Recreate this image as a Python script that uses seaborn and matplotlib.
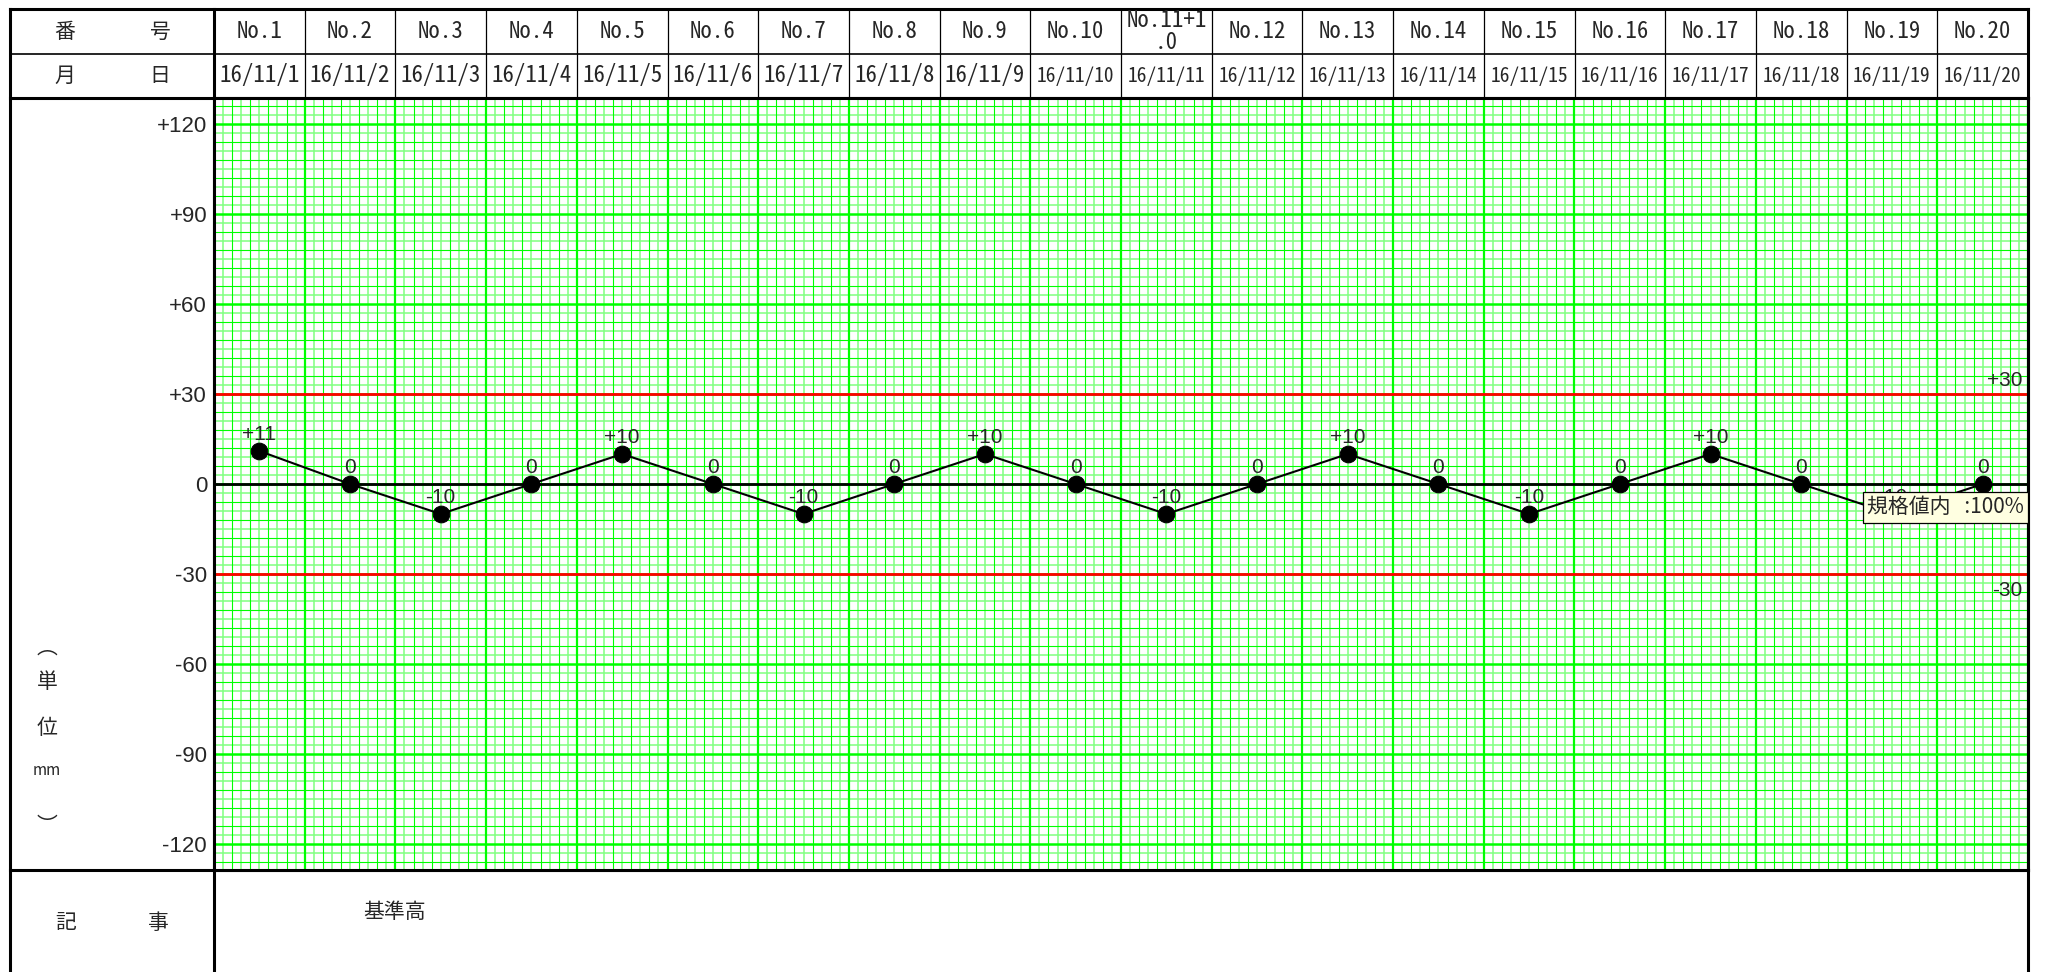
import matplotlib
matplotlib.use('Agg')
import matplotlib.pyplot as plt
import matplotlib.font_manager as fm
from matplotlib.transforms import blended_transform_factory
import numpy as np
import seaborn as sns

# chart data
numbers = ['No.1', 'No.2', 'No.3', 'No.4', 'No.5', 'No.6', 'No.7', 'No.8', 'No.9', 'No.10',
           'No.11+1\n.0', 'No.12', 'No.13', 'No.14', 'No.15', 'No.16', 'No.17', 'No.18', 'No.19', 'No.20']
dates = ['16/11/1', '16/11/2', '16/11/3', '16/11/4', '16/11/5', '16/11/6', '16/11/7', '16/11/8',
         '16/11/9', '16/11/10', '16/11/11', '16/11/12', '16/11/13', '16/11/14', '16/11/15',
         '16/11/16', '16/11/17', '16/11/18', '16/11/19', '16/11/20']
values = [11, 0, -10, 0, 10, 0, -10, 0, 10, 0, -10, 0, 10, 0, -10, 0, 10, 0, -10, 0]
upper_limit = 30
lower_limit = -30
y_ticks = [120, 90, 60, 30, 0, -30, -60, -90, -120]
row_heads = [('番', '号'), ('月', '日')]
note_head = ('記', '事')
unit_chars = ['︵', '単', '位', 'mm', '︶']
note_text = '基準高'
in_spec_text = '規格値内   :100%'


def pick(*names):
    for nm in names:
        try:
            fm.findfont(fm.FontProperties(family=nm), fallback_to_default=False)
            return nm
        except ValueError:
            pass
    return names[-1]


def signed(v):
    return '0' if v == 0 else f'{v:+d}'


sns.set_style('white')
plt.rcParams['font.family'] = ['Liberation Sans', 'Noto Sans CJK JP', 'DejaVu Sans']
cjk = ['Noto Sans CJK JP', 'DejaVu Sans']
mono = [pick('Noto Sans Mono CJK JP', 'Noto Sans CJK JP'), 'DejaVu Sans']

W, H = 2048, 972
L, R, T, B = 214, 2028, 98, 870
n = len(values)
xpos = np.arange(n)

fig = plt.figure(figsize=(W / 100, H / 100), dpi=100)
fig.patch.set_facecolor('white')

# table layer in pixel coordinates
tab = fig.add_axes([0, 0, 1, 1], zorder=0)
tab.set_xlim(0, W)
tab.set_ylim(H, 0)
tab.axis('off')

ax = fig.add_axes([L / W, 1 - B / H, (R - L) / W, (B - T) / H], zorder=1)
ax.set_xlim(-0.5, n - 0.5)
ax.set_ylim(-128.7, 128.7)

# graph paper grid
fine_x = np.arange(-0.5, n - 0.5 + 1e-6, 0.1)
for i, gx in enumerate(fine_x):
    if i % 10 == 0:
        ax.axvline(gx, color='#00ff00', lw=1.6, zorder=1)
    elif i % 2 == 0:
        ax.axvline(gx, color='#00ff00', lw=0.8, zorder=1)
    else:
        ax.axvline(gx, color='#80ff80', lw=1.1, zorder=0.9)
for gy in range(-126, 127, 3):
    if gy % 30 == 0:
        ax.axhline(gy, color='#00ff00', lw=1.8, zorder=1)
    elif gy % 6 == 0:
        ax.axhline(gy, color='#00ff00', lw=0.8, zorder=1)
    else:
        ax.axhline(gy, color='#80ff80', lw=1.1, zorder=0.9)

ax.axhline(0, color='black', lw=2, zorder=2)
ax.axhline(upper_limit, color='red', lw=2, zorder=2)
ax.axhline(lower_limit, color='red', lw=2, zorder=2)

sns.lineplot(x=xpos, y=values, ax=ax, color='black', lw=1.5, marker='o',
             markersize=12, markeredgecolor='black', zorder=4)

for x, v in zip(xpos, values):
    ax.annotate(signed(v), (x, v), xytext=(0, 8), textcoords='offset points',
                ha='center', va='baseline', fontsize=15, zorder=5)

ax.annotate(signed(upper_limit), xy=(1, upper_limit), xycoords=('axes fraction', 'data'),
            xytext=(-4, 6), textcoords='offset points', ha='right', va='baseline', fontsize=15)
ax.annotate(signed(lower_limit), xy=(1, lower_limit), xycoords=('axes fraction', 'data'),
            xytext=(-4, -5), textcoords='offset points', ha='right', va='top', fontsize=15)

ax.annotate(in_spec_text, xy=(1, -7.8), xycoords=('axes fraction', 'data'),
            xytext=(-3, 0), textcoords='offset points', ha='right', va='center',
            fontsize=15, family=cjk, zorder=10,
            bbox=dict(boxstyle='square,pad=0.2', fc='#ffffe1', ec='black', lw=0.9))

ax.set_xticks([])
ax.set_yticks(y_ticks)
ax.set_yticklabels([signed(v) for v in y_ticks], fontsize=16)
ax.tick_params(axis='y', length=0, pad=5)
for sp in ax.spines.values():
    sp.set_linewidth(2.2)
    sp.set_color('black')
ax.set_xlabel('')
ax.set_ylabel('')

# table frame
lk = dict(color='black', solid_capstyle='projecting')
tab.plot([10, R], [9, 9], lw=2.2, **lk)
tab.plot([10, 10], [9, H], lw=2.2, **lk)
tab.plot([R, R], [9, H], lw=2.2, **lk)
tab.plot([L, L], [9, H], lw=2.2, **lk)
tab.plot([10, R], [54, 54], lw=1.2, **lk)
tab.plot([10, R], [T, T], lw=2.2, **lk)
tab.plot([10, R], [B, B], lw=2.2, **lk)

hdr = blended_transform_factory(ax.transData, tab.transData)
for i in range(1, n):
    tab.plot([i - 0.5, i - 0.5], [9, T], color='black', lw=0.9, transform=hdr)
for x, num, d in zip(xpos, numbers, dates):
    tab.text(x, 31.5, num, transform=hdr, ha='center', va='center', fontsize=16.5,
             family=mono, linespacing=0.9)
    tab.text(x, 76, d, transform=hdr, ha='center', va='center',
             fontsize=16.5 if len(d) <= 7 else 14, family=mono)

for (a, b), yy in zip(row_heads, [31.5, 76]):
    tab.text(65, yy, a, ha='center', va='center', fontsize=15, family=cjk)
    tab.text(160, yy, b, ha='center', va='center', fontsize=15, family=cjk)

for ch, yy in zip(unit_chars, [648, 682, 728, 770, 826]):
    tab.text(47, yy, ch, ha='center', va='center',
             fontsize=11 if ch == 'mm' else 15, family=cjk)

tab.text(66, 923, note_head[0], ha='center', va='center', fontsize=15, family=cjk)
tab.text(158, 923, note_head[1], ha='center', va='center', fontsize=15, family=cjk)
tab.text(395, 912, note_text, ha='center', va='center', fontsize=15, family=cjk)

fig.savefig('out.png', dpi=100)
